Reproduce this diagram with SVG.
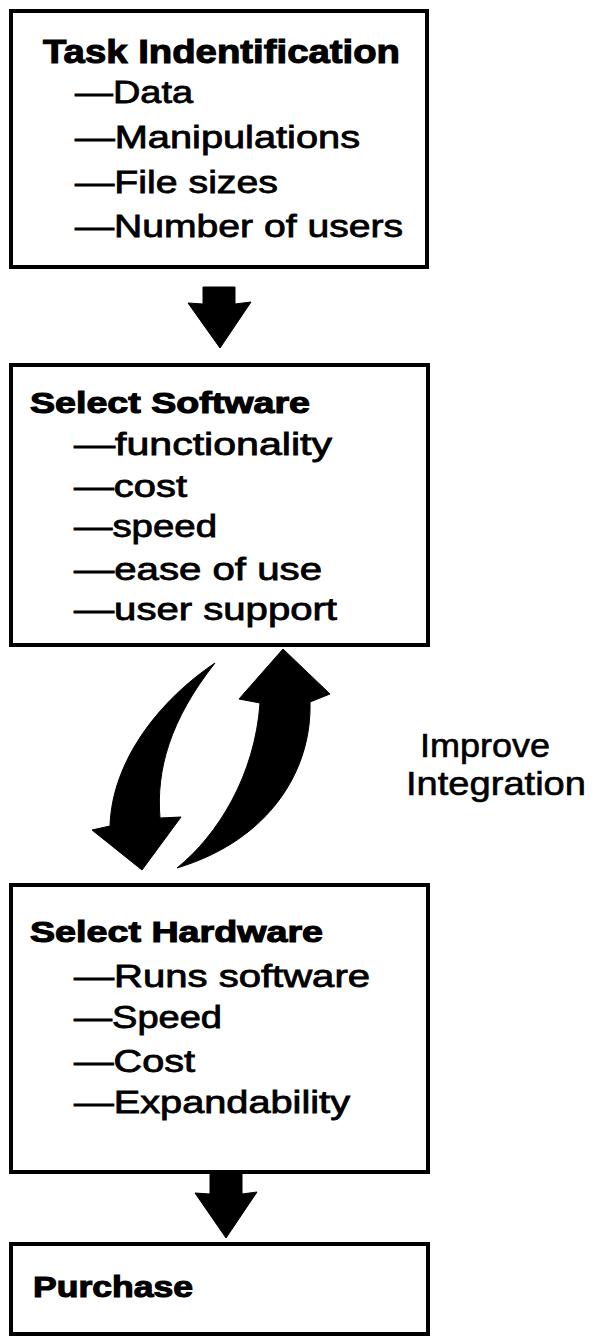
<svg xmlns="http://www.w3.org/2000/svg" width="593" height="1337" viewBox="0 0 593 1337">
  <style>
    .box { fill: #fff; stroke: #000; stroke-width: 4; }
    .title { font-family: "Liberation Sans", Arial, sans-serif; font-weight: bold; fill: #000; stroke: #000; stroke-width: 1.1; }
    .item { font-family: "Liberation Sans", Arial, sans-serif; font-weight: normal; fill: #000; stroke: #000; stroke-width: 0.8; }
    .note { font-family: "Liberation Sans", Arial, sans-serif; font-weight: normal; fill: #000; stroke: #000; stroke-width: 0.6; font-size: 33px; }
    .arrow { fill: #000; stroke: #000; stroke-width: 1; stroke-linejoin: round; }
  </style>
  <rect width="593" height="1337" fill="#fff"/>

  <!-- step 1 -->
  <g id="task-identification">
    <rect class="box" x="11" y="11" width="416" height="256"/>
    <text class="title" x="43" y="63" font-size="34" textLength="357" lengthAdjust="spacingAndGlyphs">Task Indentification</text>
    <text class="item" x="75" y="103" font-size="32" textLength="118" lengthAdjust="spacingAndGlyphs">—Data</text>
    <text class="item" x="75" y="148" font-size="32" textLength="285" lengthAdjust="spacingAndGlyphs">—Manipulations</text>
    <text class="item" x="75" y="193" font-size="32" textLength="203" lengthAdjust="spacingAndGlyphs">—File sizes</text>
    <text class="item" x="75" y="237" font-size="32" textLength="328" lengthAdjust="spacingAndGlyphs">—Number of users</text>
  </g>

  <!-- step 2 -->
  <g id="select-software">
    <rect class="box" x="11" y="365" width="417" height="280"/>
    <text class="title" x="30" y="413" font-size="30" textLength="280" lengthAdjust="spacingAndGlyphs">Select Software</text>
    <text class="item" x="74" y="455" font-size="31" textLength="258" lengthAdjust="spacingAndGlyphs">—functionality</text>
    <text class="item" x="74" y="497" font-size="31" textLength="113" lengthAdjust="spacingAndGlyphs">—cost</text>
    <text class="item" x="74" y="537" font-size="31" textLength="143" lengthAdjust="spacingAndGlyphs">—speed</text>
    <text class="item" x="74" y="580" font-size="31" textLength="248" lengthAdjust="spacingAndGlyphs">—ease of use</text>
    <text class="item" x="74" y="620" font-size="31" textLength="263" lengthAdjust="spacingAndGlyphs">—user support</text>
  </g>

  <!-- step 3 -->
  <g id="select-hardware">
    <rect class="box" x="11" y="885" width="417" height="287"/>
    <text class="title" x="30" y="942" font-size="30" textLength="293" lengthAdjust="spacingAndGlyphs">Select Hardware</text>
    <text class="item" x="74" y="987" font-size="31" textLength="296" lengthAdjust="spacingAndGlyphs">—Runs software</text>
    <text class="item" x="74" y="1028" font-size="31" textLength="148" lengthAdjust="spacingAndGlyphs">—Speed</text>
    <text class="item" x="74" y="1072" font-size="31" textLength="121" lengthAdjust="spacingAndGlyphs">—Cost</text>
    <text class="item" x="74" y="1113" font-size="31" textLength="276" lengthAdjust="spacingAndGlyphs">—Expandability</text>
  </g>

  <!-- step 4 -->
  <g id="purchase">
    <rect class="box" x="11" y="1244" width="417" height="90"/>
    <text class="title" x="33" y="1297" font-size="30" textLength="160" lengthAdjust="spacingAndGlyphs">Purchase</text>
  </g>

  <!-- loop label -->
  <g id="improve-integration">
    <text class="note" x="420" y="757" textLength="130" lengthAdjust="spacingAndGlyphs">Improve</text>
    <text class="note" x="406" y="795" textLength="180" lengthAdjust="spacingAndGlyphs">Integration</text>
  </g>

  <!-- block arrows between the steps -->
  <g id="connectors">
    <path class="arrow" d="M 203 287 L 235 287 L 235 304 L 251 302 L 220 348 L 188 303 L 203 304 Z"/>
    <path class="arrow" d="M 215 663 C 160 700, 112 760, 110 826 L 92 830 L 142 870 L 181 817 L 160 818 C 156 770, 170 720, 215 663 Z"/>
    <path class="arrow" d="M 283 649 L 330 694 L 310 702 C 312 770, 270 840, 177 868 C 218 835, 255 775, 260 703 L 239 699 Z"/>
    <path class="arrow" d="M 210 1172 L 242 1172 L 242 1194 L 257 1192 L 226 1238 L 195 1193 L 210 1194 Z"/>
  </g>
</svg>
